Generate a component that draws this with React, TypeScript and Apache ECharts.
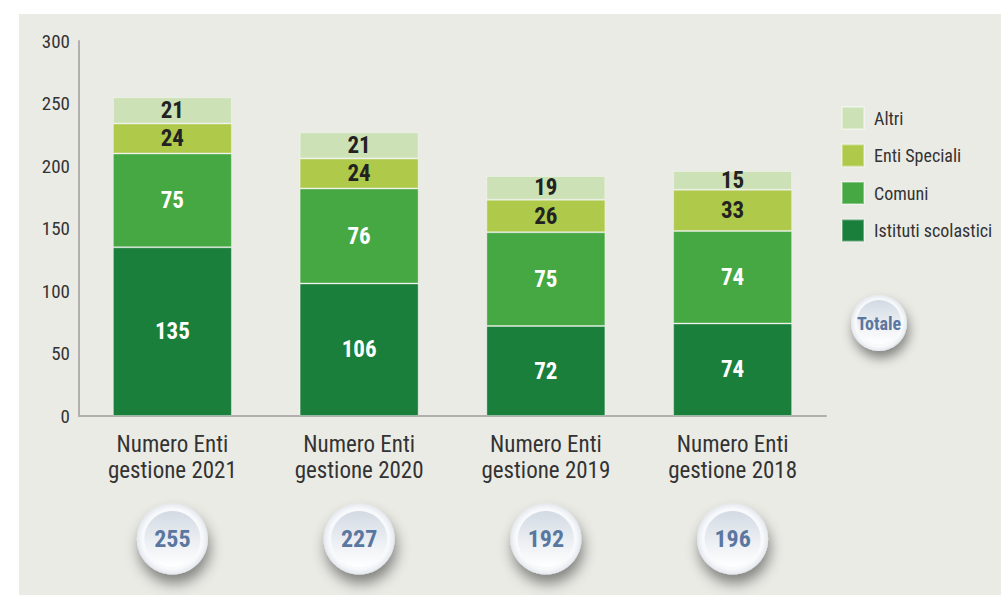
import React, { useEffect, useRef } from "react";
import * as echarts from "echarts";

const categories = [
  "Numero Enti\ngestione 2021",
  "Numero Enti\ngestione 2020",
  "Numero Enti\ngestione 2019",
  "Numero Enti\ngestione 2018",
];
const istituti = [135, 106, 72, 74];
const comuni = [75, 76, 75, 74];
const entiSpeciali = [24, 24, 26, 33];
const altri = [21, 21, 19, 15];
const totali = [255, 227, 192, 196];
const yTicks = { min: 0, max: 300, interval: 50 };

const FONT = "'Liberation Sans Narrow', 'Arial Narrow', 'Roboto Condensed', 'Liberation Sans', sans-serif";
const BUBBLE_TEXT = "#5a77a0";

export default function App() {
  const ref = useRef<HTMLDivElement>(null);
  useEffect(() => {
    const chart = echarts.init(ref.current!, null, { renderer: "svg" });
    const labelStyle = (color: string) => ({
      show: true,
      position: "inside" as const,
      color,
      fontSize: 23,
      fontWeight: "bold" as const,
      fontFamily: FONT,
    });
    const bar = (name: string, data: number[], color: string, textColor: string) => ({
      name,
      type: "bar" as const,
      stack: "tot",
      barWidth: 119,
      data,
      itemStyle: { color, borderColor: "rgba(255,255,255,0.35)", borderWidth: 1 },
      label: labelStyle(textColor),
      xAxisIndex: 0,
      yAxisIndex: 0,
    });
    const outer = {
      type: "radial" as const,
      x: 0.5, y: 0.5, r: 0.5,
      colorStops: [
        { offset: 0, color: "#ffffff" },
        { offset: 0.85, color: "#f7f9fb" },
        { offset: 1, color: "#e4e8ee" },
      ],
    };
    const inner = {
      type: "linear" as const,
      x: 0, y: 0, x2: 0, y2: 1,
      colorStops: [
        { offset: 0, color: "#d3dae3" },
        { offset: 0.6, color: "#eef1f5" },
        { offset: 1, color: "#ffffff" },
      ],
    };
    chart.setOption({
      animation: false,
      backgroundColor: "#ffffff",
      textStyle: { fontFamily: FONT },
      graphic: [
        {
          type: "rect",
          z: -10,
          silent: true,
          shape: { x: 19, y: 14, width: 990, height: 590 },
          style: { fill: "#ebebe6" },
        },
        {
          type: "group",
          z: 10,
          children: [
            {
              type: "circle",
              shape: { cx: 879, cy: 323, r: 28 },
              style: {
                fill: outer,
                shadowBlur: 12,
                shadowOffsetY: 7,
                shadowOffsetX: 2,
                shadowColor: "rgba(0,0,0,0.45)",
              },
            },
            {
              type: "circle",
              shape: { cx: 879, cy: 322, r: 22 },
              style: { fill: inner },
            },
            {
              type: "text",
              x: 879,
              y: 323,
              style: {
                text: "Totale",
                fill: BUBBLE_TEXT,
                fontSize: 18,
                fontWeight: "bold",
                fontFamily: FONT,
                align: "center",
                verticalAlign: "middle",
              },
            },
          ],
        },
      ],
      legend: {
        orient: "vertical",
        left: 841,
        top: 106,
        padding: 0,
        itemWidth: 22,
        itemHeight: 22,
        itemGap: 13.5,
        icon: "rect",
        data: ["Altri", "Enti Speciali", "Comuni", "Istituti scolastici"],
        textStyle: { fontSize: 18, color: "#333", fontFamily: FONT, padding: [0, 0, 0, 5] },
        selectedMode: false,
      },
      grid: [
        { left: 79, right: 175, top: 41, bottom: 179 },
        { left: 79, right: 175, top: 503, height: 72 },
      ],
      xAxis: [
        {
          type: "category",
          gridIndex: 0,
          data: categories,
          axisLine: { lineStyle: { color: "#b3afae", width: 2 } },
          axisTick: { show: false },
          axisLabel: {
            color: "#333",
            fontSize: 23,
            lineHeight: 26,
            margin: 15,
            fontFamily: FONT,
          },
        },
        { type: "category", gridIndex: 1, data: categories, show: false },
      ],
      yAxis: [
        {
          type: "value",
          gridIndex: 0,
          min: yTicks.min,
          max: yTicks.max,
          interval: yTicks.interval,
          axisLine: { show: true, lineStyle: { color: "#b3afae", width: 2 } },
          axisTick: { show: false },
          splitLine: { show: false },
          axisLabel: { color: "#333", fontSize: 19, margin: 9, fontFamily: FONT },
        },
        { type: "value", gridIndex: 1, min: 0, max: 1, show: false },
      ],
      series: [
        bar("Istituti scolastici", istituti, "#1a7f3a", "#ffffff"),
        bar("Comuni", comuni, "#46a843", "#ffffff"),
        bar("Enti Speciali", entiSpeciali, "#afc94b", "#222222"),
        bar("Altri", altri, "#cce2b6", "#222222"),
        {
          type: "scatter",
          xAxisIndex: 1,
          yAxisIndex: 1,
          symbolSize: 71,
          data: totali.map((t, i) => [i, 0.5, t]),
          itemStyle: {
            color: outer,
            opacity: 1,
            shadowBlur: 14,
            shadowOffsetY: 9,
            shadowOffsetX: 2,
            shadowColor: "rgba(0,0,0,0.45)",
          },
          z: 3,
        },
        {
          type: "scatter",
          xAxisIndex: 1,
          yAxisIndex: 1,
          symbolSize: 56,
          data: totali.map((t, i) => [i, 0.5, t]),
          itemStyle: { color: inner, opacity: 1 },
          label: {
            show: true,
            position: "inside",
            formatter: (p: any) => String(p.value[2]),
            color: BUBBLE_TEXT,
            fontSize: 24,
            fontWeight: "bold",
            fontFamily: FONT,
          },
          z: 4,
        },
      ],
    });
    return () => chart.dispose();
  }, []);
  return (
    <div
      ref={ref}
      style={{ position: "fixed", left: 0, top: 0, width: 1001, height: 595 }}
    />
  );
}
